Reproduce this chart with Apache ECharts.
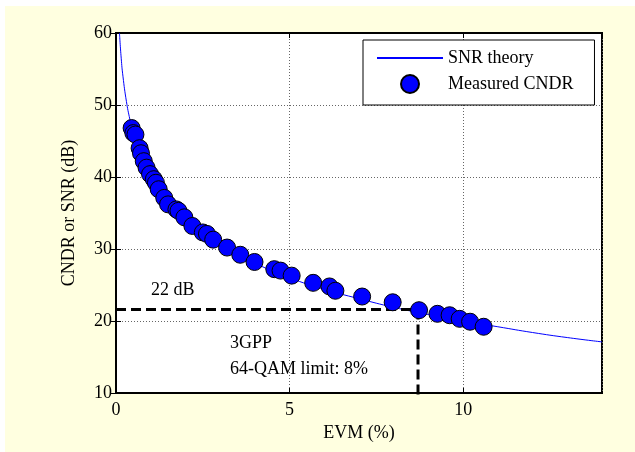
<!DOCTYPE html>
<html>
<head>
<meta charset="utf-8">
<script src="https://cdn.jsdelivr.net/npm/echarts@6/dist/echarts.min.js"></script>
<style>
  html, body { margin: 0; padding: 0; background: #fff; }
  #main { position: absolute; left: 5px; top: 6px; width: 630px; height: 446px; }
</style>
</head>
<body>
<div id="main"></div>
<script>
// SNR theory curve: [EVM %, dB]
const theoryEvm = [0.1, 0.15, 0.2, 0.3, 0.4, 0.5, 0.6, 0.7, 0.8, 1, 1.2, 1.5, 2, 2.5, 3, 3.5, 4, 5, 6, 7, 8, 9, 10, 11, 12, 13, 14];
const theorySnr = [60, 56.5, 54, 50.5, 48, 46, 44.4, 43.1, 41.9, 40, 38.4, 36.5, 34, 32, 30.5, 29.1, 28, 26, 24.4, 23.1, 21.9, 20.9, 20, 19.2, 18.4, 17.7, 17.1];

// measured CNDR points
const measEvm = [0.45, 0.5, 0.56, 0.68, 0.72, 0.8, 0.88, 0.98, 1.09, 1.15, 1.23, 1.39, 1.5, 1.74, 1.8, 1.97, 2.2, 2.5, 2.62, 2.8, 3.2, 3.58, 3.99, 4.56, 4.74, 5.06, 5.68, 6.15, 6.32, 7.09, 7.97, 8.73, 9.26, 9.61, 9.9, 10.2, 10.59];
const measCndr = [46.8, 46.1, 45.9, 44.0, 43.3, 42.2, 41.3, 40.4, 39.7, 39.2, 38.3, 37.1, 36.2, 35.5, 35.3, 34.4, 33.2, 32.3, 32.1, 31.3, 30.2, 29.2, 28.2, 27.2, 27.0, 26.3, 25.3, 24.8, 24.2, 23.4, 22.6, 21.5, 21.0, 20.8, 20.3, 19.9, 19.2];

// 3GPP limit marker
const limitEvm = 8.7;
const limitDb = 21.6;

const font = 'Liberation Serif';

const tickAxis = {
  axisLine: { show: true, lineStyle: { color: '#000', width: 2 } },
  axisTick: { show: true, inside: true, length: 5, lineStyle: { color: '#000' } },
  axisLabel: { show: false },
  splitLine: { show: false }
};

const chart = echarts.init(document.getElementById('main'));
chart.setOption({
  backgroundColor: '#FFFFE0',
  animation: false,
  textStyle: { fontFamily: font, color: '#000' },
  grid: {
    left: 111, right: 33, top: 27, bottom: 59,
    show: true,
    backgroundColor: '#fff',
    borderColor: '#000',
    borderWidth: 2
  },
  legend: {
    orient: 'vertical',
    left: 358,
    top: 34,
    backgroundColor: '#fff',
    borderColor: '#000',
    borderWidth: 1,
    padding: [9, 21, 11, 13],
    itemWidth: 66,
    itemHeight: 18,
    itemGap: 7,
    textStyle: { fontFamily: font, fontSize: 18, color: '#000' },
    data: [
      { name: 'SNR theory', itemStyle: { opacity: 0 } },
      { name: 'Measured CNDR', icon: 'circle' }
    ]
  },
  xAxis: [
    {
      type: 'value',
      min: 0,
      max: 14,
      interval: 5,
      name: 'EVM (%)',
      nameLocation: 'middle',
      nameGap: 31,
      nameTextStyle: { fontFamily: font, fontSize: 18, color: '#000' },
      axisLine: { show: true, lineStyle: { color: '#000', width: 2 } },
      axisTick: { show: true, inside: true, length: 5, lineStyle: { color: '#000' } },
      axisLabel: { fontFamily: font, fontSize: 18, color: '#000', margin: 8, showMaxLabel: false },
      splitLine: { show: true, lineStyle: { color: '#666', width: 1, type: [1, 2] } }
    },
    Object.assign({ type: 'value', position: 'top', min: 0, max: 14, interval: 5 }, tickAxis)
  ],
  yAxis: [
    {
      type: 'value',
      min: 10,
      max: 60,
      interval: 10,
      name: 'CNDR or SNR (dB)',
      nameLocation: 'middle',
      nameGap: 38,
      nameTextStyle: { fontFamily: font, fontSize: 18, color: '#000' },
      axisLine: { show: true, lineStyle: { color: '#000', width: 2 } },
      axisTick: { show: true, inside: true, length: 5, lineStyle: { color: '#000' } },
      axisLabel: { fontFamily: font, fontSize: 18, color: '#000', margin: 4 },
      splitLine: { show: true, lineStyle: { color: '#666', width: 1, type: [1, 2] } }
    },
    Object.assign({ type: 'value', position: 'right', min: 10, max: 60, interval: 10 }, tickAxis)
  ],
  series: [
    {
      name: 'SNR theory',
      type: 'line',
      symbol: 'none',
      smooth: true,
      lineStyle: { color: '#0000FF', width: 1 },
      itemStyle: { color: '#0000FF' },
      data: theoryEvm.map((x, i) => [x, theorySnr[i]]),
      z: 2
    },
    {
      name: 'limit-h',
      type: 'line',
      symbol: 'none',
      lineStyle: { color: '#000', width: 3, type: [10, 5] },
      data: [[0, limitDb], [limitEvm, limitDb]],
      z: 3
    },
    {
      name: 'limit-v',
      type: 'line',
      symbol: 'none',
      clip: false,
      lineStyle: { color: '#000', width: 3, type: [10, 5] },
      data: [[limitEvm, limitDb], [limitEvm, 9.3]],
      z: 3
    },
    {
      name: 'Measured CNDR',
      type: 'scatter',
      symbol: 'circle',
      symbolSize: 17,
      itemStyle: { color: '#0000FF', borderColor: '#000', borderWidth: 1, opacity: 1 },
      data: measEvm.map((x, i) => [x, measCndr[i]]),
      z: 4
    }
  ],
  graphic: [
    { type: 'text', left: 146, top: 275, style: { text: '22 dB', font: '18px ' + font, fill: '#000' } },
    { type: 'text', left: 225, top: 328, style: { text: '3GPP', font: '18px ' + font, fill: '#000' } },
    { type: 'text', left: 225, top: 354, style: { text: '64-QAM limit: 8%', font: '18px ' + font, fill: '#000' } }
  ]
});
</script>
</body>
</html>
